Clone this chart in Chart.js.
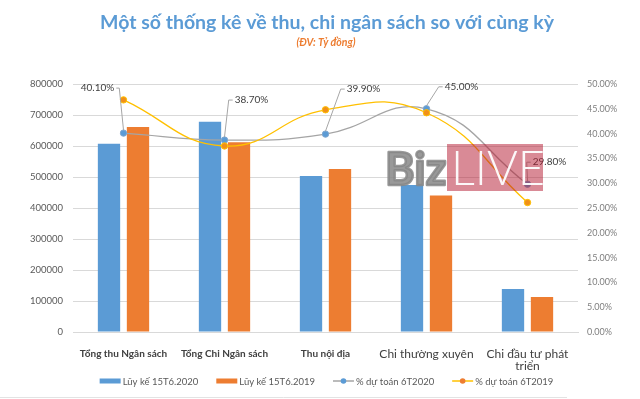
<!DOCTYPE html>
<html>
<head>
<meta charset="utf-8">
<script src="https://cdn.jsdelivr.net/npm/chart.js@4.4.1/dist/chart.umd.min.js"></script>
<style>
  html, body { margin: 0; padding: 0; background: #ffffff; }
  #wrap { position: relative; width: 640px; height: 399px; }
</style>
</head>
<body>
<div id="wrap"><canvas id="c" width="640" height="399"></canvas></div>
<script>
// ---- data ----
const categories = [
  "Tổng thu Ngân sách",
  "Tổng Chi Ngân sách",
  "Thu nội địa",
  "Chi thường xuyên",
  ["Chi đầu tư phát", "triển"]
];
const seriesNames = ["Lũy kế 15T6.2020", "Lũy kế 15T6.2019", "% dự toán 6T2020", "% dự toán 6T2019"];
const luyKe2020 = [607000, 678000, 503000, 474000, 139000];
const luyKe2019 = [661000, 612000, 526000, 440000, 113000];
const duToan2020 = [0.401, 0.387, 0.399, 0.450, 0.298];
const duToan2019 = [0.468, 0.375, 0.448, 0.442, 0.261];
const leftTicks = { min: 0, max: 800000, step: 100000 };
const rightTicks = { min: 0, max: 0.5, step: 0.05 };
const titleText = "Một số thống kê về thu, chi ngân sách so với cùng kỳ";
const subtitleText = "(ĐV: Tỷ đồng)";

const FONT = "Lato";
const BLUE = "#5B9BD5", ORANGE = "#ED7D31", GRAY = "#A5A5A5", YELLOW = "#FFC000";

// label placement for the % 6T2020 data labels (offset of label centre from point)
const labelOffsets = [[-26, -45], [27, -40], [38, -45], [35, -22], [22, -22]];

const pct = v => (v * 100).toFixed(2) + "%";

const decorPlugin = {
  id: "decor",
  afterDraw(chart) {
    const ctx = chart.ctx;
    ctx.save();
    // title
    ctx.textAlign = "center";
    ctx.textBaseline = "middle";
    ctx.fillStyle = BLUE;
    ctx.font = "bold 19.5px " + FONT;
    ctx.fillText(titleText, 327, 23);
    ctx.fillStyle = ORANGE;
    ctx.font = "italic bold 10.5px " + FONT;
    ctx.fillText(subtitleText, 326, 43);

    // data labels with leader lines for % 6T2020
    const meta = chart.getDatasetMeta(2);
    ctx.font = "10px " + FONT;
    meta.data.forEach((pt, i) => {
      const txt = pct(duToan2020[i]);
      const w = ctx.measureText(txt).width;
      const [dx, dy] = labelOffsets[i];
      const lx = pt.x + dx, ly = pt.y + dy;
      ctx.strokeStyle = "#A6A6A6";
      ctx.lineWidth = 1;
      ctx.beginPath();
      if (dx < 0) {
        const ex = lx + w / 2 + 2;
        ctx.moveTo(ex, ly);
        ctx.lineTo(ex + 3, ly);
      } else {
        const ex = lx - w / 2 - 2;
        ctx.moveTo(ex, ly);
        ctx.lineTo(ex - 4, ly);
      }
      ctx.lineTo(pt.x, pt.y - 3);
      ctx.stroke();
      ctx.fillStyle = "#404040";
      ctx.textAlign = "center";
      ctx.fillText(txt, lx, ly);
    });

    // legend
    ctx.font = "9.5px " + FONT;
    ctx.textAlign = "left";
    const symW = 21, gapT = 2, gapI = 18;
    const ws = seriesNames.map(s => ctx.measureText(s).width);
    const total = ws.reduce((a, b) => a + b, 0) + 4 * (symW + gapT) + 3 * gapI;
    let x = 326.5 - total / 2;
    const ly = 381;
    const cols = [BLUE, ORANGE, GRAY, YELLOW];
    const dots = [null, null, BLUE, ORANGE];
    seriesNames.forEach((s, i) => {
      if (i < 2) {
        ctx.fillStyle = cols[i];
        ctx.fillRect(x, ly - 2.5, symW, 5);
      } else {
        ctx.strokeStyle = cols[i];
        ctx.lineWidth = 1.5;
        ctx.beginPath();
        ctx.moveTo(x, ly);
        ctx.lineTo(x + symW, ly);
        ctx.stroke();
        ctx.fillStyle = dots[i];
        ctx.beginPath();
        ctx.arc(x + symW / 2, ly, 2.8, 0, Math.PI * 2);
        ctx.fill();
      }
      x += symW + gapT;
      ctx.fillStyle = "#595959";
      ctx.fillText(s, x, ly + 0.5);
      x += ws[i] + gapI;
    });

    // bottom border
    ctx.strokeStyle = "#E3E3E3";
    ctx.lineWidth = 1;
    ctx.beginPath();
    ctx.moveTo(0, 397.5);
    ctx.lineTo(567, 397.5);
    ctx.stroke();

    // watermark
    ctx.fillStyle = "rgba(179,21,45,0.5)";
    ctx.fillRect(447, 144, 96, 47);
    ctx.font = "bold 45px " + FONT;
    ctx.textBaseline = "alphabetic";
    ctx.fillStyle = "rgb(135,135,135)";
    ctx.strokeStyle = "rgb(135,135,135)";
    ctx.lineWidth = 2.5;
    ctx.lineJoin = "round";
    ctx.globalAlpha = 0.85;
    ctx.strokeText("Biz", 385, 185);
    ctx.fillText("Biz", 385, 185);
    ctx.globalAlpha = 1;
    ctx.fillStyle = "rgba(255,255,255,0.95)";
    ctx.font = "300 47px " + FONT;
    ctx.fillText("LIVE", 451, 185);
    ctx.restore();
  }
};

new Chart(document.getElementById("c"), {
  type: "bar",
  data: {
    labels: categories,
    datasets: [
      { label: seriesNames[0], data: luyKe2020, backgroundColor: BLUE, yAxisID: "y", order: 2,
        categoryPercentage: 0.574, barPercentage: 0.77 },
      { label: seriesNames[1], data: luyKe2019, backgroundColor: ORANGE, yAxisID: "y", order: 2,
        categoryPercentage: 0.574, barPercentage: 0.77 },
      { type: "line", label: seriesNames[2], data: duToan2020, yAxisID: "y1", order: 1,
        borderColor: GRAY, borderWidth: 1.3, tension: 0.45, pointRadius: 3.2,
        pointBackgroundColor: BLUE, pointBorderColor: "#7FA7CF", pointBorderWidth: 1 },
      { type: "line", label: seriesNames[3], data: duToan2019, yAxisID: "y1", order: 0,
        borderColor: YELLOW, borderWidth: 1.3, tension: 0.45, pointRadius: 3.2,
        pointBackgroundColor: "#F0901A", pointBorderColor: YELLOW, pointBorderWidth: 1 }
    ]
  },
  options: {
    responsive: false,
    animation: false,
    layout: { padding: { top: 84, left: 0, right: 0, bottom: 0 } },
    plugins: { legend: { display: false }, tooltip: { enabled: false }, title: { display: false } },
    scales: {
      x: {
        grid: { display: false },
        border: { display: true, color: "#D9D9D9" },
        ticks: {
          color: "#404040",
          padding: 8,
          maxRotation: 0,
          autoSkip: false,
          font: (c) => c.index >= 3
            ? { family: FONT, size: 12, weight: "normal", lineHeight: 1.0 }
            : { family: FONT, size: 10, weight: "bold", lineHeight: 1.1 }
        },
        afterFit: (s) => { s.height = 67; }
      },
      y: {
        position: "left",
        min: leftTicks.min, max: leftTicks.max,
        grid: { color: "#D9D9D9", drawTicks: false },
        border: { display: false },
        ticks: { stepSize: leftTicks.step, color: "#595959", padding: 10,
                 font: { family: FONT, size: 9.5 },
                 callback: (v) => String(v) },
        afterFit: (s) => { s.width = 73; }
      },
      y1: {
        position: "right",
        min: rightTicks.min, max: rightTicks.max,
        grid: { display: false, drawTicks: false },
        border: { display: false },
        ticks: { stepSize: rightTicks.step, color: "#7F7F7F", padding: 9,
                 font: { family: FONT, size: 9 },
                 callback: (v) => pct(v) },
        afterFit: (s) => { s.width = 62; }
      }
    }
  },
  plugins: [decorPlugin]
});
</script>
</body>
</html>
